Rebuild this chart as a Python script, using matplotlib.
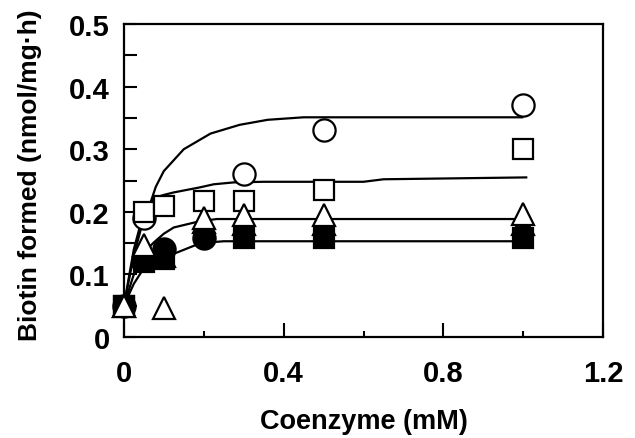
import matplotlib.pyplot as plt
from matplotlib.ticker import MultipleLocator

plt.rcParams['font.family'] = ['Liberation Sans', 'DejaVu Sans']
plt.rcParams['font.weight'] = 'bold'

# Measured points for each cofactor series
open_circle_x = [0, 0.05, 0.3, 0.5, 1.0]
open_circle_y = [0.05, 0.19, 0.26, 0.33, 0.37]

open_square_x = [0, 0.05, 0.1, 0.2, 0.3, 0.5, 1.0]
open_square_y = [0.05, 0.20, 0.21, 0.218, 0.218, 0.235, 0.30]

open_triangle_x = [0, 0.05, 0.1, 0.2, 0.3, 0.5, 1.0]
open_triangle_y = [0.05, 0.147, 0.047, 0.19, 0.195, 0.195, 0.196]

filled_circle_x = [0.1, 0.2]
filled_circle_y = [0.14, 0.158]

filled_square_x = [0, 0.05, 0.1, 0.3, 0.5, 1.0]
filled_square_y = [0.05, 0.12, 0.125, 0.158, 0.158, 0.158]

filled_triangle_x = [0, 0.05, 0.1, 0.2, 0.3, 0.5, 1.0]
filled_triangle_y = [0.05, 0.13, 0.13, 0.183, 0.18, 0.18, 0.18]

# Fitted saturation curves
fit_circle_x = [0, 0.025, 0.05, 0.067, 0.08, 0.1, 0.15, 0.217, 0.29, 0.36, 0.45, 1.0]
fit_circle_y = [0.05, 0.13, 0.19, 0.215, 0.24, 0.265, 0.300, 0.325, 0.339, 0.347, 0.351, 0.351]

fit_square_x = [0, 0.025, 0.05, 0.075, 0.1, 0.125, 0.19, 0.225, 0.275, 0.35, 0.6, 0.65, 1.01]
fit_square_y = [0.05, 0.14, 0.20, 0.222, 0.227, 0.231, 0.239, 0.244, 0.247, 0.248, 0.248, 0.252, 0.255]

fit_triangle_x = [0, 0.025, 0.05, 0.075, 0.1, 0.125, 0.19, 0.233, 1.0]
fit_triangle_y = [0.05, 0.10, 0.135, 0.151, 0.165, 0.175, 0.185, 0.1885, 0.1885]

fit_filled_x = [0, 0.025, 0.05, 0.1, 0.133, 0.192, 0.25, 1.0]
fit_filled_y = [0.05, 0.085, 0.11, 0.127, 0.135, 0.15, 0.153, 0.153]

fig = plt.figure(figsize=(6.35, 4.39), dpi=100)
ax = fig.add_axes([0.195, 0.230, 0.755, 0.713])

for fx, fy in [(fit_circle_x, fit_circle_y), (fit_square_x, fit_square_y),
               (fit_triangle_x, fit_triangle_y), (fit_filled_x, fit_filled_y)]:
    ax.plot(fx, fy, color='black', lw=1.6, zorder=2, solid_capstyle='butt')

ms = 16
mew = 1.6
common = dict(mec='black', mew=mew, ls='none', clip_on=False)
ax.plot(open_circle_x, open_circle_y, 'o', ms=ms, mfc='white', zorder=3, **common)
ax.plot(open_square_x, open_square_y, 's', ms=ms - 1, mfc='white', zorder=4, **common)
ax.plot(filled_circle_x, filled_circle_y, 'o', ms=ms, mfc='black', zorder=5, **common)
ax.plot(filled_square_x, filled_square_y, 's', ms=ms - 1, mfc='black', zorder=6, **common)
ax.plot(filled_triangle_x, filled_triangle_y, '^', ms=ms, mfc='black', zorder=7, **common)
ax.plot(open_triangle_x, open_triangle_y, '^', ms=ms, mfc='white', zorder=8, **common)

ax.set_xlim(0, 1.2)
ax.set_ylim(0, 0.5)
ax.xaxis.set_minor_locator(MultipleLocator(0.2))
ax.yaxis.set_minor_locator(MultipleLocator(0.05))
ax.set_xticks([0, 0.4, 0.8, 1.2], ['0', '0.4', '0.8', '1.2'])
ax.set_yticks([0, 0.1, 0.2, 0.3, 0.4, 0.5], ['0', '0.1', '0.2', '0.3', '0.4', '0.5'])

ax.tick_params(axis='both', which='both', direction='in', width=1.5, labelsize=21)
ax.tick_params(axis='x', which='major', length=10, pad=16)
ax.tick_params(axis='x', which='minor', length=4)
ax.tick_params(axis='y', which='both', length=9, pad=10)
for lab in ax.get_xticklabels() + ax.get_yticklabels():
    lab.set_fontweight('bold')

for sp in ax.spines.values():
    sp.set_linewidth(1.6)

ax.set_xlabel('Coenzyme (mM)', fontsize=19.5, fontweight='bold', labelpad=15)
ax.set_ylabel('Biotin formed (nmol/mg\u00b7h)', fontsize=19, fontweight='bold')
ax.yaxis.set_label_coords(-0.17, 0.52)

fig.savefig('out.png', dpi=100)
